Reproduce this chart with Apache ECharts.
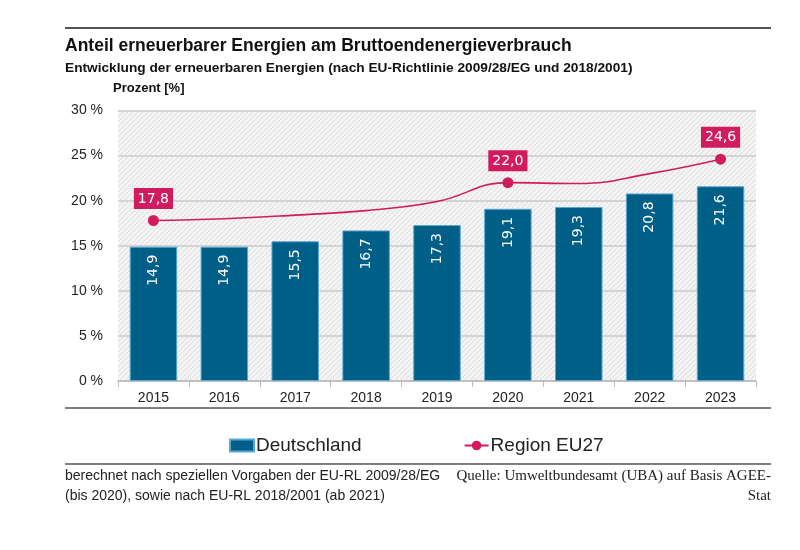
<!DOCTYPE html>
<html>
<head>
<meta charset="utf-8">
<script src="https://cdn.jsdelivr.net/npm/echarts@6/dist/echarts.min.js"></script>
<style>html,body{margin:0;padding:0;background:#fff}#c{width:800px;height:550px}</style>
</head>
<body>
<div id="c"></div>
<script>
const years = ['2015','2016','2017','2018','2019','2020','2021','2022','2023'];
const deutschland = [14.9, 14.9, 15.5, 16.7, 17.3, 19.1, 19.3, 20.8, 21.6];
const eu27 = [17.8, 18.0, 18.4, 18.9, 19.9, 22.0, 21.9, 23.0, 24.6];
const eu27Marked = ['2015', '2020', '2023'];
const yMin = 0, yMax = 30, yStep = 5;

const fmt = v => v.toFixed(1).replace('.', ',');

const pat = document.createElement('canvas');
pat.width = 5; pat.height = 5;
const pc = pat.getContext('2d');
pc.fillStyle = '#f4f4f4'; pc.fillRect(0, 0, 5, 5);
pc.strokeStyle = '#dcdcdc'; pc.lineWidth = 1;
pc.beginPath();
pc.moveTo(0, 5); pc.lineTo(5, 0);
pc.moveTo(-1, 1); pc.lineTo(1, -1);
pc.moveTo(4, 6); pc.lineTo(6, 4);
pc.stroke();

const chart = echarts.init(document.getElementById('c'), null, {renderer: 'canvas'});
const sans = 'Liberation Sans, sans-serif';
chart.setOption({
  animation: false,
  backgroundColor: '#fff',
  grid: {
    left: 118, right: 44, top: 110.5, bottom: 169,
    show: true, borderWidth: 0,
    backgroundColor: {image: pat, repeat: 'repeat'}
  },
  legend: {
    left: 224, top: 431,
    itemGap: 102, itemWidth: 24, itemHeight: 12,
    textStyle: {fontFamily: 'Liberation Sans', fontSize: 19, color: '#222', padding: [0, 0, 0, -3]},
    data: [{name: 'Deutschland', icon: 'rect'}, {name: 'Region EU27'}]
  },
  xAxis: {
    type: 'category', data: years,
    axisLine: {lineStyle: {color: '#bbb', width: 1.5}},
    axisTick: {show: true, length: 6, lineStyle: {color: '#bbb'}},
    axisLabel: {fontFamily: 'Liberation Sans', fontSize: 14, color: '#222', margin: 10}
  },
  yAxis: {
    type: 'value', min: yMin, max: yMax, interval: yStep,
    axisLine: {show: false}, axisTick: {show: false},
    splitLine: {lineStyle: {color: '#d4d4d4', width: 2}},
    axisLabel: {formatter: '{value} %', fontFamily: 'Liberation Sans', fontSize: 14, color: '#222', margin: 15}
  },
  series: [
    {
      name: 'Deutschland', type: 'bar', data: deutschland,
      barWidth: '67%',
      itemStyle: {color: '#005f86', borderColor: '#5aa7d6', borderWidth: 1},
      label: {
        show: true, position: 'insideTop', rotate: 90, align: 'right', verticalAlign: 'middle',
        distance: 8, color: '#fff', fontFamily: 'DejaVu Sans', fontSize: 14,
        formatter: p => fmt(p.value)
      },
      z: 2
    },
    {
      name: 'Region EU27', type: 'line', smooth: 0.45,
      symbol: 'circle', symbolSize: 11,
      lineStyle: {color: '#d01c5e', width: 1.6},
      itemStyle: {color: '#d01c5e'},
      data: eu27.map((v, i) => {
        const marked = eu27Marked.includes(years[i]);
        return {
          value: v,
          symbolSize: marked ? 11 : 0,
          label: {
            show: marked, position: 'top', distance: 6,
            formatter: p => fmt(p.value),
            color: '#fff', backgroundColor: '#d01c5e',
            padding: [4, 4, 3, 4], fontFamily: 'DejaVu Sans', fontSize: 14
          }
        };
      }),
      z: 3
    }
  ],
  graphic: [
    {type: 'line', shape: {x1: 65, y1: 28, x2: 771, y2: 28}, style: {stroke: '#555', lineWidth: 2}},
    {type: 'line', shape: {x1: 65, y1: 408, x2: 771, y2: 408}, style: {stroke: '#555', lineWidth: 1.5}},
    {type: 'line', shape: {x1: 65, y1: 464, x2: 771, y2: 464}, style: {stroke: '#555', lineWidth: 1.5}},
    {type: 'text', style: {x: 65, y: 46, text: 'Anteil erneuerbarer Energien am Bruttoendenergieverbrauch', verticalAlign: 'middle', font: 'bold 17.5px ' + sans, fill: '#111'}},
    {type: 'text', style: {x: 65, y: 68, text: 'Entwicklung der erneuerbaren Energien (nach EU-Richtlinie 2009/28/EG und 2018/2001)', verticalAlign: 'middle', font: 'bold 13.7px ' + sans, fill: '#111'}},
    {type: 'text', style: {x: 113, y: 88, text: 'Prozent [%]', verticalAlign: 'middle', font: 'bold 13px ' + sans, fill: '#111'}},
    {type: 'text', style: {x: 65, y: 476, text: 'berechnet nach speziellen Vorgaben der EU-RL 2009/28/EG', verticalAlign: 'middle', font: '14px ' + sans, fill: '#222'}},
    {type: 'text', style: {x: 65, y: 496, text: '(bis 2020), sowie nach EU-RL 2018/2001 (ab 2021)', verticalAlign: 'middle', font: '14px ' + sans, fill: '#222'}},
    {type: 'text', style: {x: 771, y: 476, text: 'Quelle: Umweltbundesamt (UBA) auf Basis AGEE-', align: 'right', verticalAlign: 'middle', font: '15px Liberation Serif, serif', fill: '#222'}},
    {type: 'text', style: {x: 771, y: 496, text: 'Stat', align: 'right', verticalAlign: 'middle', font: '15px Liberation Serif, serif', fill: '#222'}}
  ]
});
</script>
</body>
</html>
